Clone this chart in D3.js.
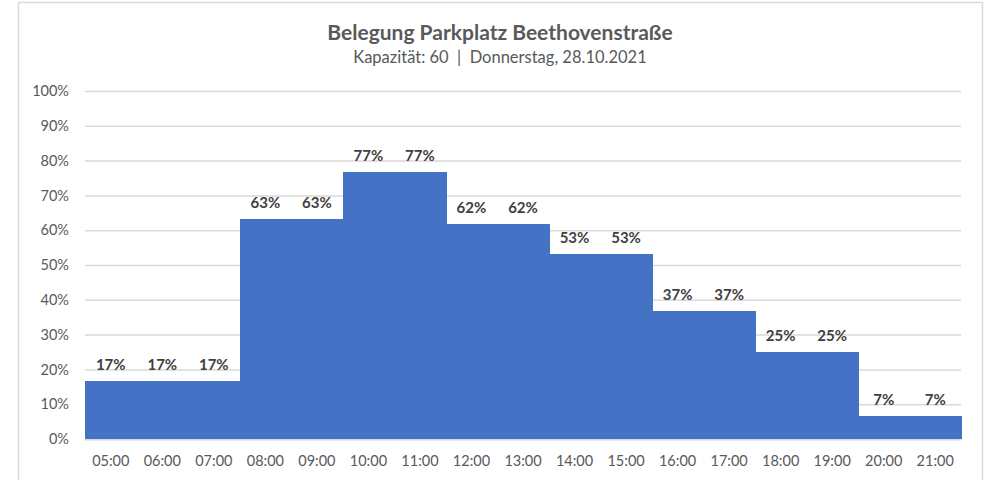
<!DOCTYPE html>
<html>
<head>
<meta charset="utf-8">
<script src="https://cdn.jsdelivr.net/npm/d3@7"></script>
<style>
  html, body { margin: 0; padding: 0; background: #fff; }
  svg { display: block; font-family: Lato, "Open Sans", sans-serif; }
</style>
</head>
<body>
<svg id="chart" width="989" height="480"></svg>
<script>
// Hourly occupancy (share of 60 spaces)
const hours = ["05:00","06:00","07:00","08:00","09:00","10:00","11:00","12:00","13:00",
               "14:00","15:00","16:00","17:00","18:00","19:00","20:00","21:00"];
const occupancy = [0.167,0.167,0.167,0.633,0.633,0.767,0.767,0.617,0.617,
                   0.533,0.533,0.367,0.367,0.25,0.25,0.067,0.067];
const yTicks = [0,0.1,0.2,0.3,0.4,0.5,0.6,0.7,0.8,0.9,1.0];
const title = "Belegung Parkplatz Beethovenstraße";
const subtitle = "Kapazität: 60  |  Donnerstag, 28.10.2021";

const svg = d3.select("#chart");
const m = { left: 85, right: 961, top: 91, bottom: 439 };

// Chart frame
svg.append("rect")
  .attr("x", 18.5).attr("y", 2.5).attr("width", 964).attr("height", 490)
  .attr("fill", "#fff").attr("stroke", "#d9d9d9").attr("stroke-width", 1.5);

const x = d3.scaleBand().domain(hours).range([m.left, m.right]).padding(0);
const y = d3.scaleLinear().domain([0, 1]).range([m.bottom, m.top]);

// Gridlines and y labels
const yAxis = d3.axisLeft(y).tickValues(yTicks).tickFormat(d3.format(".0%"))
  .tickSize(-(m.right - m.left)).tickPadding(16);
const gy = svg.append("g").attr("transform", `translate(${m.left},0)`).call(yAxis);
gy.select(".domain").remove();
gy.selectAll(".tick line").attr("stroke", "#d9d9d9").attr("stroke-width", 1.5);
gy.selectAll(".tick text").attr("fill", "#595959").attr("font-size", 14.5)
  .attr("font-family", "Lato, 'Open Sans', sans-serif");

// Bars
svg.append("g").attr("shape-rendering", "crispEdges")
  .selectAll("rect").data(occupancy).join("rect")
  .attr("x", (d, i) => Math.round(x(hours[i])))
  .attr("width", (d, i) => Math.round(x(hours[i]) + x.bandwidth()) - Math.round(x(hours[i])) + 1)
  .attr("y", d => Math.round(y(d)))
  .attr("height", d => Math.round(y(0)) - Math.round(y(d)))
  .attr("fill", "#4472c4");

// Baseline below the bars
svg.append("line")
  .attr("x1", m.left).attr("x2", m.right)
  .attr("y1", m.bottom + 0.75).attr("y2", m.bottom + 0.75)
  .attr("stroke", "#d9d9d9").attr("stroke-width", 1.5);

// Value labels
svg.append("g").selectAll("text").data(occupancy).join("text")
  .attr("x", (d, i) => x(hours[i]) + x.bandwidth() / 2)
  .attr("y", d => y(d) - 11)
  .attr("text-anchor", "middle")
  .attr("font-size", 15).attr("font-weight", "bold").attr("fill", "#404040")
  .text(d => d3.format(".0%")(d));

// x labels
const xAxis = d3.axisBottom(x).tickSize(0).tickPadding(17);
const gx = svg.append("g").attr("transform", `translate(0,${m.bottom})`).call(xAxis);
gx.select(".domain").remove();
gx.selectAll(".tick text").attr("fill", "#595959").attr("font-size", 14.5)
  .attr("font-family", "Lato, 'Open Sans', sans-serif");

// Titles
svg.append("text").attr("x", 500).attr("y", 40).attr("text-anchor", "middle")
  .attr("font-size", 21).attr("font-weight", "bold").attr("fill", "#595959").text(title);
svg.append("text").attr("x", 500).attr("y", 63).attr("text-anchor", "middle")
  .attr("font-size", 16.5).attr("fill", "#595959")
  .style("white-space", "pre").text(subtitle);
</script>
</body>
</html>
